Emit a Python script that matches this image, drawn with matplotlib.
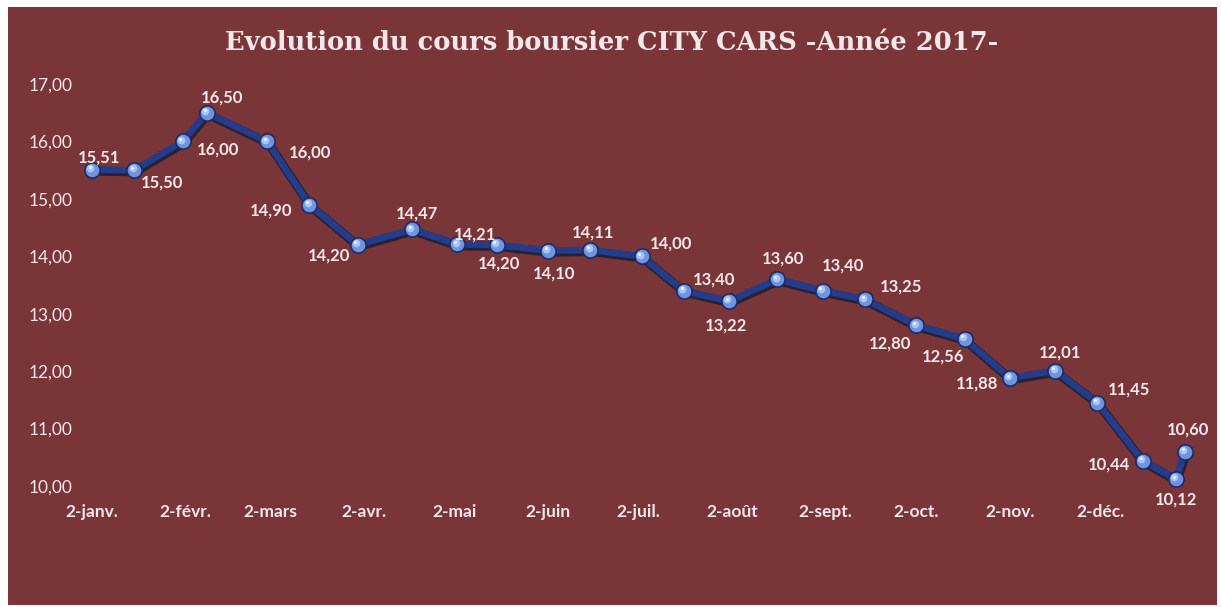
import matplotlib
matplotlib.use("Agg")
import matplotlib.pyplot as plt
import matplotlib.transforms as mtrans
from matplotlib.patches import Rectangle
import datetime as dt

# data
dates = [
    "2017-01-02", "2017-01-16", "2017-02-01", "2017-02-09", "2017-03-01",
    "2017-03-15", "2017-03-31", "2017-04-18", "2017-05-03", "2017-05-16",
    "2017-06-02", "2017-06-16", "2017-07-03", "2017-07-17", "2017-08-01",
    "2017-08-17", "2017-09-01", "2017-09-15", "2017-10-02", "2017-10-18",
    "2017-11-02", "2017-11-17", "2017-12-01", "2017-12-16", "2017-12-27",
    "2017-12-30",
]
prices = [
    15.51, 15.50, 16.00, 16.50, 16.00, 14.90, 14.20, 14.47, 14.21, 14.20,
    14.10, 14.11, 14.00, 13.40, 13.22, 13.60, 13.40, 13.25, 12.80, 12.56,
    11.88, 12.01, 11.45, 10.44, 10.12, 10.60,
]
month_labels = ["2-janv.", "2-févr.", "2-mars", "2-avr.", "2-mai", "2-juin",
                "2-juil.", "2-août", "2-sept.", "2-oct.", "2-nov.", "2-déc."]
y_ticks = [10, 11, 12, 13, 14, 15, 16, 17]

# label offsets in pixels (dx, dy) relative to each point
label_offsets = [
    (7, 12), (28, -12), (35, -8), (15, 15), (43, -11), (-38, -6), (-29, -11),
    (5, 16), (18, 10), (2, -19), (6, -23), (3, 17), (30, 13), (30, 11),
    (-3, -24), (6, 21), (20, 25), (36, 13), (-26, -18), (-22, -18),
    (-33, -5), (5, 18), (32, 13), (-34, -4), (0, -20), (3, 22),
]

W, H = 1221, 607
BG = "#7A3539"
TXT = "#F2E8E8"

x = [dt.datetime.strptime(d, "%Y-%m-%d") for d in dates]

fig = plt.figure(figsize=(W / 100, H / 100), dpi=100, facecolor="white")
fig.patches.append(Rectangle((8 / W, 2 / H), 1209 / W, 598 / H,
                             transform=fig.transFigure, facecolor=BG,
                             edgecolor="none", zorder=-5))

# axes: Jan 2 at x=92, Dec 30 at x=1185 ; 17 at y=84, 10 at y=486
x0, x1 = 92, 1185
ytop, ybot = 84, 486
ax = fig.add_axes([x0 / W, (H - ybot) / H, (x1 - x0) / W, (ybot - ytop) / H])
ax.set_zorder(2)
ax.set_facecolor("none")
ax.set_xlim(x[0], x[-1])
ax.set_ylim(10, 17)
for s in ax.spines.values():
    s.set_visible(False)

# shadow + line
shadow = mtrans.offset_copy(ax.transData, fig=fig, x=0.8, y=-1.2, units="points")
ax.plot(x, prices, color="#1A1E33", lw=6.5, clip_on=False, zorder=2, alpha=0.85,
        transform=shadow, solid_joinstyle="round")
ax.plot(x, prices, color="#233C8C", lw=4.8, clip_on=False, zorder=3,
        solid_capstyle="round", solid_joinstyle="round")
ax.plot(x, prices, ls="none", marker="o", ms=11, mfc="#6F95E0",
        mec="#1B2C66", mew=1.2, clip_on=False, zorder=4)
hl = mtrans.offset_copy(ax.transData, fig=fig, x=-1.2, y=1.2, units="points")
ax.plot(x, prices, ls="none", marker="o", ms=5.5, mfc="#A9C4F5",
        mec="none", clip_on=False, zorder=5, transform=hl)
hl2 = mtrans.offset_copy(ax.transData, fig=fig, x=-1.6, y=1.8, units="points")
ax.plot(x, prices, ls="none", marker="o", ms=2.2, mfc="#EEF4FF",
        mec="none", clip_on=False, zorder=5, transform=hl2)

for xi, yi, (dx, dy) in zip(x, prices, label_offsets):
    ax.annotate(f"{yi:.2f}".replace(".", ","), (xi, yi), xytext=(dx * 0.72, dy * 0.72),
                textcoords="offset points", ha="center", va="center",
                color=TXT, fontsize=12, fontfamily="Lato", fontweight="bold",
                zorder=6)

ax.set_yticks(y_ticks)
ax.set_yticklabels([f"{v:.2f}".replace(".", ",") for v in y_ticks],
                   fontfamily="Lato", fontsize=12.5, color=TXT)
tick_dates = [dt.datetime(2017, m, 2) for m in range(1, 13)]
ax.set_xticks(tick_dates)
ax.set_xticklabels(month_labels, fontfamily="Lato", fontsize=12.5,
                   fontweight="bold", color=TXT)
ax.tick_params(axis="y", length=0, pad=14)
ax.tick_params(axis="x", length=0, pad=13)

fig.text(612 / W, 1 - 42 / H, "Evolution du cours boursier CITY CARS -Année 2017-",
         ha="center", va="center", color=TXT, fontsize=18.5,
         fontfamily="DejaVu Serif", fontweight="bold")

fig.savefig("out.png", dpi=100, facecolor="white")
